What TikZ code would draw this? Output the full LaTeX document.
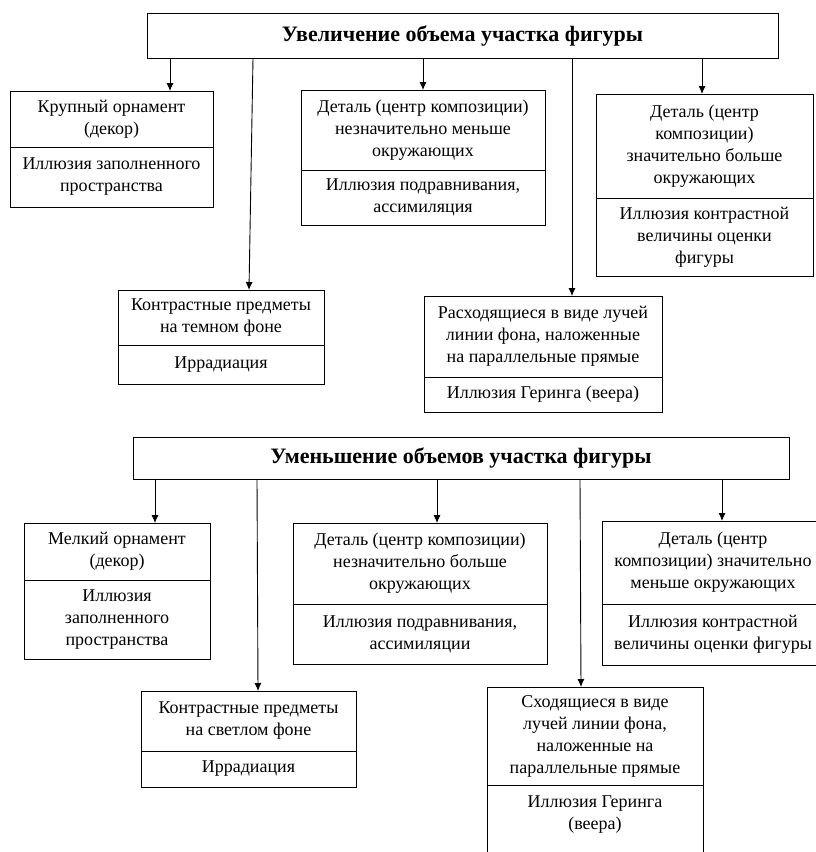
\documentclass[tikz,border=0pt]{standalone}
\usepackage{fontspec}
\setmainfont{Liberation Serif}
\usetikzlibrary{positioning}
\usetikzlibrary{calc}
\usetikzlibrary{arrows.meta}

\begin{document}
\begin{tikzpicture}[
x=1pt, y=-1pt,
line width=0.9pt,
>={Latex[length=8pt,width=7pt]},
headnode/.style={rectangle, draw=black, anchor=north west, inner sep=0pt, outer sep=0pt,
align=center, font=\fontsize{22}{24}\selectfont\bfseries},
causenode/.style={rectangle, draw=black, anchor=north west, inner sep=0pt, outer sep=0pt,
align=center, font=\fontsize{18}{22}\selectfont},
illusionnode/.style={causenode}
]

\useasboundingbox (0,0) rectangle (815,852);

%Upper part
\node[headnode, minimum width=631pt, minimum height=45pt] (upTitle) at (147,13) {Увеличение объема участка фигуры};

\node[causenode, minimum width=203pt, minimum height=56pt] (bigDecor) at (10,91) {Крупный орнамент\\(декор)};
\node[illusionnode, minimum width=203pt, minimum height=60pt, below=0pt of bigDecor] (bigDecorIll) {Иллюзия заполненного\\пространства};

\node[causenode, minimum width=206pt, minimum height=55pt] (darkBg) at (118,290) {Контрастные предметы\\на темном фоне};
\node[illusionnode, minimum width=206pt, minimum height=39pt, below=0pt of darkBg] (darkBgIll) {Иррадиация};

\node[causenode, minimum width=244pt, minimum height=80pt] (smallDetail) at (301,90) {Деталь (центр композиции)\\незначительно меньше\\окружающих};
\node[illusionnode, minimum width=244pt, minimum height=55pt, below=0pt of smallDetail] (smallDetailIll) {Иллюзия подравнивания,\\ассимиляция};

\node[causenode, minimum width=238pt, minimum height=81pt] (raysOut) at (424,296) {Расходящиеся в виде лучей\\линии фона, наложенные\\на параллельные прямые};
\node[illusionnode, minimum width=238pt, minimum height=35pt, below=0pt of raysOut] (raysOutIll) {Иллюзия Геринга (веера)};

\node[causenode, minimum width=217pt, minimum height=104pt] (bigDetail) at (596,94) {Деталь (центр\\композиции)\\значительно больше\\окружающих};
\node[illusionnode, minimum width=217pt, minimum height=78pt, below=0pt of bigDetail] (bigDetailIll) {Иллюзия контрастной\\величины оценки\\фигуры};

%Upper arrows
\coordinate (upArr1) at ($(upTitle.south west)+(23,0)$);
\coordinate (upArr2) at ($(upTitle.south west)+(106,0)$);
\coordinate (upArr3) at ($(upTitle.south west)+(276,0)$);
\coordinate (upArr4) at ($(upTitle.south west)+(425,0)$);
\coordinate (upArr5) at ($(upTitle.south west)+(555,0)$);

\draw[->] (upArr1) -- (upArr1 |- bigDecor.north);
\draw[->] (upArr2) -- ($(darkBg.north west)+(131,0)$);
\draw[->] (upArr3) -- (upArr3 |- smallDetail.north);
\draw[->] (upArr4) -- ($(raysOut.north west)+(148,0)$);
\draw[->] (upArr5) -- (upArr5 |- bigDetail.north);

%Lower part
\node[headnode, minimum width=656pt, minimum height=42pt] (downTitle) at (133,437) {Уменьшение объемов участка фигуры};

\node[causenode, minimum width=186pt, minimum height=57pt] (smallDecor) at (24,523) {Мелкий орнамент\\(декор)};
\node[illusionnode, minimum width=186pt, minimum height=79pt, below=0pt of smallDecor] (smallDecorIll) {Иллюзия\\заполненного\\пространства};

\node[causenode, minimum width=215pt, minimum height=60pt] (lightBg) at (141,691) {Контрастные предметы\\на светлом фоне};
\node[illusionnode, minimum width=215pt, minimum height=36pt, below=0pt of lightBg] (lightBgIll) {Иррадиация};

\node[causenode, minimum width=254pt, minimum height=81pt] (biggerDetail) at (293,523) {Деталь (центр композиции)\\незначительно больше\\окружающих};
\node[illusionnode, minimum width=254pt, minimum height=60pt, below=0pt of biggerDetail] (biggerDetailIll) {Иллюзия подравнивания,\\ассимиляции};

\node[causenode, minimum width=216pt, minimum height=98pt] (raysIn) at (487,687) {Сходящиеся в виде\\лучей линии фона,\\наложенные на\\параллельные прямые};
\node[illusionnode, minimum width=216pt, inner ysep=11pt, text depth=70pt, below=0pt of raysIn] (raysInIll) {Иллюзия Геринга\\(веера)};

\node[causenode, minimum width=222pt, minimum height=83pt] (tinyDetail) at (602,521) {Деталь (центр\\композиции) значительно\\меньше окружающих};
\node[illusionnode, minimum width=222pt, minimum height=61pt, below=0pt of tinyDetail] (tinyDetailIll) {Иллюзия контрастной\\величины оценки фигуры};

%Lower arrows
\coordinate (downArr1) at ($(downTitle.south west)+(22,0)$);
\coordinate (downArr2) at ($(downTitle.south west)+(124,0)$);
\coordinate (downArr3) at ($(downTitle.south west)+(304,0)$);
\coordinate (downArr4) at ($(downTitle.south west)+(447,0)$);
\coordinate (downArr5) at ($(downTitle.south west)+(589,0)$);

\draw[->] (downArr1) -- (downArr1 |- smallDecor.north);
\draw[->] (downArr2) -- ($(lightBg.north west)+(117,0)$);
\draw[->] (downArr3) -- (downArr3 |- biggerDetail.north);
\draw[->] (downArr4) -- ($(raysIn.north west)+(94,0)$);
\draw[->] (downArr5) -- (downArr5 |- tinyDetail.north);

\end{tikzpicture}
\end{document}
